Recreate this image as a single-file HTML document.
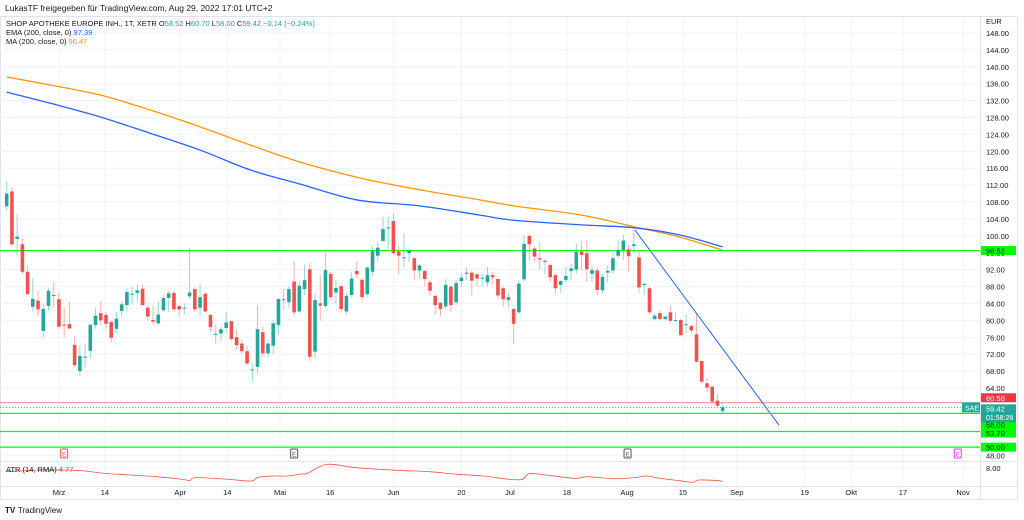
<!DOCTYPE html>
<html><head><meta charset="utf-8"><style>
html,body{margin:0;padding:0;background:#fff;}
svg{display:block;font-family:"Liberation Sans",sans-serif;}
</style></head><body>
<svg id="chart" width="1024" height="520" viewBox="0 0 1024 520" xmlns="http://www.w3.org/2000/svg">
<text x="5" y="11" font-size="8.5" fill="#131722">LukasTF freigegeben für TradingView.com, Aug 29, 2022 17:01 UTC+2</text>
<rect x="0.5" y="16.5" width="1017" height="483" fill="none" stroke="#e0e3eb"/>
<g id="grid"></g>
<g id="lines"></g>
<g id="candles"></g>
<g id="overlay"></g>
<line x1="980.5" y1="17" x2="980.5" y2="500" stroke="#e0e3eb"/>
<line x1="0" y1="461.5" x2="1018" y2="461.5" stroke="#e0e3eb"/>
<line x1="0" y1="486.5" x2="1018" y2="486.5" stroke="#e0e3eb"/>
<g id="axes" font-size="7.5" fill="#131722"></g>
<g id="tags"></g>
<g font-size="7.5">
<text x="6" y="26" fill="#131722">SHOP APOTHEKE EUROPE INH., 1T, XETR  O<tspan fill="#26a69a">58.52</tspan>  H<tspan fill="#26a69a">60.70</tspan>  L<tspan fill="#26a69a">58.00</tspan>  C<tspan fill="#26a69a">59.42  −0.14 (−0.24%)</tspan></text>
<text x="6" y="35" fill="#131722">EMA (200, close, 0)  <tspan fill="#2962ff">97.39</tspan></text>
<text x="6" y="44" fill="#131722">MA (200, close, 0)  <tspan fill="#ff9800">96.47</tspan></text>
<text x="6" y="472" fill="#131722">ATR (14, RMA)  <tspan fill="#ef5350">4.77</tspan></text>
</g>
<g>
<text x="5" y="513" font-size="8" font-weight="bold" fill="#131722">TV</text>
<text x="18" y="513" font-size="8" fill="#131722">TradingView</text>
</g>
</svg>
<script>
const opens=[107,110.5,99.3,98,91.5,83.2,84.7,77.5,83.4,86,85,79,79.1,74.2,68,71.4,72.8,78.9,81.7,81.3,79.6,78,82.2,83.6,86.3,86.5,87.5,83,80.1,79.3,82.4,85.3,86.5,83.4,83,85.7,87.4,83,86.3,81.3,76.8,76.9,78.2,79.8,76,74.5,72.7,68.4,69,77.2,72.2,74,78.9,85,84.3,89.2,82.1,87.4,92.1,72.6,84,83.4,91,86.6,88.1,82.1,86,91.7,89.6,86.2,91.5,95.3,98.8,102,103.5,96.3,94.9,95.9,94.7,91.8,91.7,89,85.8,84.2,83.3,88,84.3,89.3,91,91.3,90.9,90.1,89,90.7,89.8,87.6,84.8,82.7,81.9,89.7,100,97,94.7,93.8,93.1,90.7,88.4,89.6,91.7,92,96.3,95.9,91,91.8,87.1,91.3,91.8,95.3,96.7,96.8,97.6,94.9,88.6,87.6,80.3,81.7,80.3,81.9,80.1,80.1,79.1,78.7,76.7,70.4,65.1,64.3,61,58.52];
const highs=[113,111.5,105,99.5,93,90,87,84,87.5,89,86.5,83,84.5,76.2,74,74.5,79,83,84.5,82,80,82,84.5,87.5,88,88.5,88.5,83.5,83.5,84.5,86,87,87,83.5,84,97.2,87.8,88.5,86.8,81.5,79,78.5,82,80,77.6,75.5,74,70,83.6,78.5,75.5,80.2,85.1,87.5,88,94,89.3,93.2,93.7,86.5,90.8,95.9,91.5,89.6,88.6,86.5,91.6,94,90,92.8,97.5,98.5,104.5,104.5,105.3,97.8,100.7,97,95,93.4,92,89.5,86,84.2,89.8,88.2,89.6,91.3,92.5,91.7,91,91,92.7,91.5,90,88,86.5,83,89.5,100.2,100.2,97.5,98.5,94.5,93.4,91,89.6,92.7,93.5,98.2,98.8,99,93,92.5,91,93,96,99,100.2,98,101.6,96.5,89,88,81.5,82.5,81,83.5,82,80.5,81.5,79,81.5,70.5,66.5,64.5,62.5,60.7];
const lows=[106,97.5,95,91,86,82,81,76,82.3,83,78,76,78,69,66.7,69,71,78,79,78,74.7,77,81,82,84,84.5,83.5,80,79,79,82,82,82,81,81.5,85,82,81,82,77.5,74.5,75,77,75,73,72,69.5,65.5,67.5,71.5,71.2,72,76.5,82.5,83,81,81.9,86,70.4,71,79.9,83,85,84,82,81.3,85.5,90,84.8,85.5,90.5,94,98.5,97,95.5,91,92.5,93.7,89.5,90,88,86,81.4,81,82.5,82,83.6,88,89.5,86,88,88,88,88.5,85,83.2,83,74.4,81.5,89,94.2,94,92,91,89,86.5,86.5,89,89.5,91,92,89,89,86,86.2,89,91,94.5,94.3,91.5,96,86.5,86,81.5,80,80,80,79.5,79.5,76.3,77,77,70,65,63,60.5,59.5,58];
const closes=[110,98,99.8,91.5,86.2,85.1,82.6,82.7,87,85.8,78.5,78.8,78.1,69.4,71.6,71.4,79,81.1,80,79.2,75.9,80.4,83.8,86.7,86.3,87.1,83.6,80.9,79.7,81.4,85.3,86.4,82.6,82.6,83,86.6,82.6,85.5,82.1,78.4,76.8,77.9,79.5,75.6,74.1,72.7,69.8,68.4,77.9,72.2,74.5,79.3,85.1,85,87.4,81.9,88.2,89.5,71.4,84.8,83.5,91.9,85.5,87.7,82.7,85.8,89.9,90.9,85.5,92.5,96.4,97.2,101.6,102,95.9,95.3,94.9,96.5,91.8,93,89.8,87,83.6,82.7,88.4,83.6,88.8,90.1,91.3,89.4,89.9,90.1,90.7,90.2,85.9,85,85.5,79.2,88.7,98.1,98,95.1,94.4,94.1,90.2,87.6,89.3,90.5,92.3,96.2,95.5,92.1,91.9,87.2,90.3,91.7,94.7,96.7,98.9,95.2,98,87.8,88.6,81.9,81.1,80.3,80.9,79.9,80.1,76.5,79.1,77.6,70.2,65.5,64.1,60.8,59.8,59.42];
const emaIdx=[0,8.3,18,27.4,37,46.6,56,67,79,90.6,97,110,120.2,128.8,137];
const emaVal=[134.0,131.4,128.1,124.3,120.3,115.6,112.3,108.5,107.1,104.9,103.7,102.6,101.9,100.2,97.4];
const maIdx=[0,8.3,18,27.4,37,46.6,56,67.6,79,90.6,97,110,120.2,128.8,137];
const maVal=[137.6,135.7,133.3,129.8,125.8,121.5,117.5,113.7,110.9,108.5,107.1,104.9,102.1,99.7,96.6];
const atrIdx=[0,6.2,11.2,15,18.7,23.7,28.7,33.7,35,36.2,42.5,46.8,48.1,51.2,53.7,56.2,57.5,61.2,66.2,71.2,76.2,81,86.2,91.2,96.2,98.7,100,103.7,108.7,111.2,116.2,120.6,122.4,125,128.7,131.2,132.5,136.2,137];
const atrVal=[7.13,7.53,7.53,7.29,6.74,6.35,5.95,5.32,5.01,5.72,5.32,4.93,5.8,6.11,6.11,6.59,6.74,8.86,8.16,7.69,7.37,7.13,6.51,6.11,5.32,5.32,6.66,6.27,5.56,5.95,5.48,5.8,6.11,5.56,5.01,4.62,5.17,5.01,4.77];
const priceTicks=[148,144,140,136,132,128,124,120,116,112,108,104,100,96,92,88,84,80,76,72,68,64,48];
const dateLabels=["Mrz","14","Apr","14","Mai","16","Jun","20","Jul","18","Aug","15","Sep","19","Okt","17","Nov"];
const dateIdx=[10,18.8,33.2,42.2,52.3,61.9,74,87,96.3,107.2,118.7,129.4,139.7,152.7,161.6,171.5,183];
const levelPrices=[96.52,58.00,53.70,50.00];
const resistPrice=60.50;
const lastPrice=59.42;
const trendIdx=[120.2,147.8];
const trendVal=[101.4,55.2];
const earnIdx=[11,55,118.8,182];
const earnColor=["#ef5350","#555","#555","#e040fb"];

const NS="http://www.w3.org/2000/svg";
const X=i=>6.7+i*5.226;
const Y=p=>33+(148-p)*4.226;
const AY=a=>468+(8-a)*4.24;
function mk(name,attrs,parent){const e=document.createElementNS(NS,name);for(const k in attrs)e.setAttribute(k,attrs[k]);parent.appendChild(e);return e;}
const grid=document.getElementById('grid'),lines=document.getElementById('lines'),cg=document.getElementById('candles'),ov=document.getElementById('overlay'),ax=document.getElementById('axes'),tg=document.getElementById('tags');

priceTicks.forEach(p=>{
  const g=mk('line',{x1:0,x2:980,y1:Y(p),y2:Y(p),stroke:'#f0f3fa'},grid);
  
  
  const t=mk('text',{x:986,y:Y(p)+3},ax);t.textContent=p.toFixed(2);
  
  
});
const eur=mk('text',{x:986,y:24},ax);eur.textContent='EUR';


const atrT=mk('text',{x:986,y:AY(8)+3},ax);atrT.textContent='8.00';


const atrG=mk('line',{x1:0,x2:980,y1:AY(8),y2:AY(8),stroke:'#f0f3fa'},grid);


dateLabels.forEach((d,k)=>{
  const x=X(dateIdx[k]);
  const g=mk('line',{x1:x,x2:x,y1:17,y2:486,stroke:'#f0f3fa'},grid);
  
  
  const t=mk('text',{x:x,y:495,'text-anchor':'middle'},ax);t.textContent=d;
  
  
});

function smooth(idx,val,fy){
  const P=idx.map((i,k)=>[X(i),fy(val[k])]);
  let d='M'+P[0][0]+','+P[0][1];
  for(let k=0;k<P.length-1;k++){
    const p0=P[Math.max(0,k-1)],p1=P[k],p2=P[k+1],p3=P[Math.min(P.length-1,k+2)];
    const c1=[p1[0]+(p2[0]-p0[0])/6,p1[1]+(p2[1]-p0[1])/6];
    const c2=[p2[0]-(p3[0]-p1[0])/6,p2[1]-(p3[1]-p1[1])/6];
    d+=' C'+c1[0]+','+c1[1]+' '+c2[0]+','+c2[1]+' '+p2[0]+','+p2[1];
  }
  return d;
}
function curve(idx,val,fy,color,name,w){
  const e=mk('path',{d:smooth(idx,val,fy),fill:'none',stroke:color,'stroke-width':w},lines);
  
  
}
curve(maIdx,maVal,Y,'#ff9800','ma-200-line',1.3);
curve(emaIdx,emaVal,Y,'#2962ff','ema-200-line',1.3);
curve(atrIdx,atrVal,AY,'#ef5350','atr-line',0.8);
const tl=mk('line',{x1:X(trendIdx[0]),y1:Y(trendVal[0]),x2:X(trendIdx[1]),y2:Y(trendVal[1]),stroke:'#2962ff','stroke-width':1},lines);



levelPrices.forEach(p=>{
  const l=mk('line',{x1:0,x2:980,y1:Y(p),y2:Y(p),stroke:'#00ff00','stroke-width':1.2},lines);
  
  
});
const rl=mk('line',{x1:0,x2:980,y1:Y(resistPrice),y2:Y(resistPrice),stroke:'#f23645','stroke-width':0.8,opacity:0.8},lines);


const ll=mk('line',{x1:0,x2:980,y1:Y(lastPrice),y2:Y(lastPrice),stroke:'#26a69a','stroke-width':0.8,'stroke-dasharray':'1,2'},lines);



closes.forEach((c,i)=>{
  const o=opens[i],up=c>=o,col=up?'#26a69a':'#ef5350',x=X(i);
  const w=mk('line',{x1:x,x2:x,y1:Y(highs[i]),y2:Y(lows[i]),stroke:col,'stroke-width':1,opacity:0.45},cg);
  
  
  const top=Y(Math.max(o,c)),h=Math.max(1,Math.abs(Y(o)-Y(c)));
  const b=mk('rect',{x:x-1.8,y:top,width:3.6,height:h,fill:col},cg);
  
  
});

earnIdx.forEach((i,k)=>{
  const x=X(i);
  const r=mk('rect',{x:x-3.5,y:449,width:7,height:9,fill:'#fff',stroke:earnColor[k],'stroke-width':1,rx:1},ov);
  
  
  const t=mk('text',{x:x,y:456.5,'font-size':6.5,'text-anchor':'middle',fill:earnColor[k]},ov);t.textContent='E';
  
  
});

function priceTag(cy,bg,fg,txt,name,h){
  const r=mk('rect',{x:981,y:cy-h/2,width:35,height:h,fill:bg},tg);
  
  
  const t=mk('text',{x:986,y:cy+3,'font-size':7.5,fill:fg},tg);t.textContent=txt;
  
  
}
priceTag(Y(96.52),'#00ff00','#131722','96.52','level-price-tag',9);
priceTag(Y(resistPrice)-5,'#f23645','#fff',resistPrice.toFixed(2),'resistance-price-tag',9);
priceTag(Y(levelPrices[1])+11,'#00ff00','#131722',levelPrices[1].toFixed(2),'level-price-tag',9);
priceTag(Y(levelPrices[2])+1.5,'#00ff00','#131722',levelPrices[2].toFixed(2),'level-price-tag',9);
priceTag(Y(levelPrices[3]),'#00ff00','#131722',levelPrices[3].toFixed(2),'level-price-tag',9);
const lpY=Y(lastPrice)+3;
const lp=mk('rect',{x:981,y:lpY-6,width:35,height:18,fill:'#26a69a'},tg);


const lt=mk('text',{x:986,y:lpY+1,'font-size':7.5,fill:'#fff'},tg);lt.textContent=lastPrice.toFixed(2);


const ct=mk('text',{x:986,y:lpY+9.5,'font-size':7,fill:'#fff'},tg);ct.textContent='01:58:28';


const sr=mk('rect',{x:962,y:Y(lastPrice)-5,width:18,height:10,fill:'#26a69a'},tg);


const st=mk('text',{x:965,y:Y(lastPrice)+3,'font-size':7,fill:'#fff'},tg);st.textContent='SAE';


</script>
</body></html>
